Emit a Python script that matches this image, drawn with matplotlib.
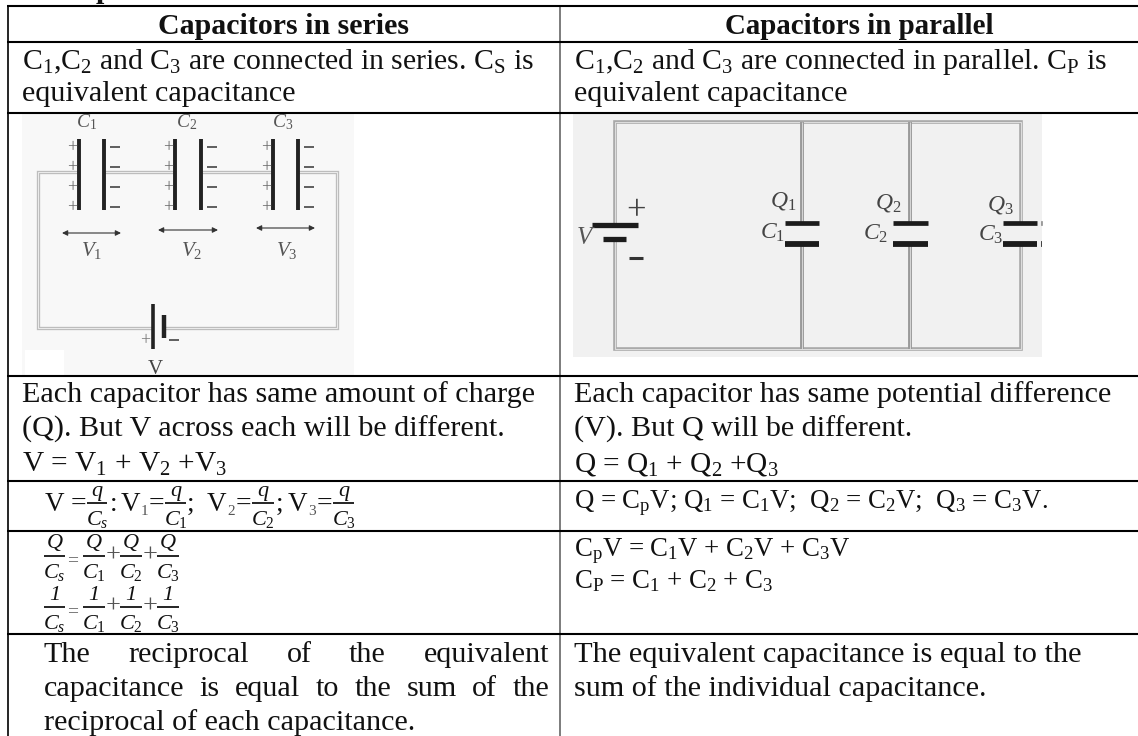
import matplotlib
matplotlib.use('Agg')
import matplotlib.pyplot as plt
from matplotlib.patches import Rectangle

plt.rcParams['font.family'] = ['Liberation Serif', 'DejaVu Serif']
plt.rcParams['mathtext.fontset'] = 'custom'
plt.rcParams['mathtext.rm'] = 'Liberation Serif'
plt.rcParams['mathtext.it'] = 'Liberation Serif:italic'
plt.rcParams['mathtext.bf'] = 'Liberation Serif:bold'

headers = ['Capacitors in series', 'Capacitors in parallel']

left_lines = [
    (69, 21.4, r'C$_{1}$,C$_{2}$ and C$_{3}$ are connected in series. C$_{\mathrm{S}}$ is'),
    (101, 21.7, 'equivalent capacitance'),
    (402, 21.7, 'Each capacitor has same amount of charge'),
    (437, 21.7, '(Q). But V across each will be different.'),
    (472, 21.2, r'V = V$_{1}$ + V$_{2}$ +V$_{3}$'),
]
right_lines = [
    (69, 21.4, r'C$_{1}$,C$_{2}$ and C$_{3}$ are connected in parallel. C$_{\mathrm{P}}$ is'),
    (101, 21.7, 'equivalent capacitance'),
    (402, 21.7, 'Each capacitor has same potential difference'),
    (437, 21.7, '(V). But Q will be different.'),
    (472, 21.1, r'Q = Q$_{1}$ + Q$_{2}$ +Q$_{3}$'),
    (508, 19.3, r'Q = C$_{\mathrm{p}}$V; Q$_{1}$ = C$_{1}$V;  Q$_{2}$ = C$_{2}$V;  Q$_{3}$ = C$_{3}$V.'),
    (556, 19.3, r'C$_{\mathrm{p}}$V = C$_{1}$V + C$_{2}$V + C$_{3}$V'),
    (588, 19.3, r'C$_{\mathrm{P}}$ = C$_{1}$ + C$_{2}$ + C$_{3}$'),
    (662, 21.9, 'The equivalent capacitance is equal to the'),
    (696, 21.7, 'sum of the individual capacitance.'),
]
justified_lines = [
    (662, 'The reciprocal of the equivalent'),
    (696, 'capacitance is equal to the sum of the'),
]
last_line = 'reciprocal of each capacitance.'

voltage_subs = ['1', '2', '3']
charge_fracs = ['Q', 'Q', 'Q', 'Q']
unit_fracs = ['1', '1', '1', '1']
den_labels = ['C_s', 'C_1', 'C_2', 'C_3']

fig = plt.figure(figsize=(11.38, 7.36), dpi=100)
ax = fig.add_axes([0, 0, 1, 1])
ax.set_xlim(0, 1138)
ax.set_ylim(736, 0)
ax.axis('off')

FS = 21.7
LX, MX = 8, 560


def put(x, y, s, size=FS, **kw):
    kw.setdefault('va', 'baseline')
    kw.setdefault('ha', 'left')
    kw.setdefault('color', '#111111')
    return ax.text(x, y, s, fontsize=size, **kw)


def seg(x0, y0, x1, y1, color='black', lw=1.5, **kw):
    ax.plot([x0, x1], [y0, y1], color=color, lw=lw, solid_capstyle='butt', **kw)


def frac(x0, x1, yl, num, den, ynum, yden, size=15):
    seg(x0, yl, x1, yl, lw=1.2)
    put((x0 + x1) / 2, ynum, num, size=size, ha='center', style='italic')
    put((x0 + x1) / 2, yden, '$%s$' % den, size=size, ha='center')


def justify(y, text, x0, x1):
    words = text.split()
    r = fig.canvas.get_renderer()
    items = [put(x0, y, w) for w in words]
    widths = [t.get_window_extent(r).width for t in items]
    gap = (x1 - x0 - sum(widths)) / (len(words) - 1)
    x = x0
    for t, w in zip(items, widths):
        t.set_x(x)
        x += w + gap


# clipped bit of the line above the table
put(96, -2, 'p', weight='bold')

# table rules
for y in [6, 42, 112.5, 376, 481, 530.5, 634]:
    seg(LX - 1, y, 1138, y, lw=1.5, zorder=5)
seg(LX, 6, LX, 736, lw=1.2)
seg(MX, 6, MX, 736, color='#666666', lw=1.2)

# headers
put(284, 34, headers[0], ha='center', weight='bold', size=21.5)
put(994, 34, headers[1], ha='right', weight='bold', size=20.9)

for y, size, s in left_lines:
    put(22, y, s, size=size)
for y, size, s in right_lines:
    put(574, y, s, size=size)
for y, s in justified_lines:
    justify(y, s, 44, 549)
put(44, 730, last_line)

# series circuit
ax.add_patch(Rectangle((22, 113), 332, 263, color='#f8f8f8', lw=0, zorder=0))
ax.add_patch(Rectangle((25, 350), 39, 26, color='white', lw=0, zorder=0))
ax.add_patch(Rectangle((38, 172), 299, 156, fill=False, ec='#bdbdbd', lw=2.4))
ax.add_patch(Rectangle((38, 172), 299, 156, fill=False, ec='#ececec', lw=0.7))
caps = [(79, 104, 233, 'C_{\\mathit{1}}', 'V_{\\mathit{1}}', 87, 92),
        (175, 201, 230, 'C_{\\mathit{2}}', 'V_{\\mathit{2}}', 187, 192),
        (273, 298, 228, 'C_{\\mathit{3}}', 'V_{\\mathit{3}}', 283, 287)]
for x0, x1, ya, c, v, xc, xv in caps:
    ax.add_patch(Rectangle((x0, 168), x1 - x0, 8, color='#f8f8f8', lw=0, zorder=2))
    seg(x0, 139, x0, 210, color='#222222', lw=2.8, zorder=3)
    seg(x1, 139, x1, 210, color='#222222', lw=2.8, zorder=3)
    for y in [147, 167, 187, 207]:
        put(x0 - 7, y + 5, '+', size=13, ha='center', color='#666666')
        seg(x1 + 6, y, x1 + 16, y, color='#444444', lw=1.2)
    ax.annotate('', xy=(x0 - 17, ya), xytext=(x1 + 17, ya),
                arrowprops=dict(arrowstyle='<|-|>', color='#333333', lw=0.8, mutation_scale=8, shrinkA=0, shrinkB=0))
    put(xv, 256, '$%s$' % v, size=15, ha='center', color='#555555')
    put(xc, 127, '$%s$' % c, size=14, ha='center', color='#555555')
ax.add_patch(Rectangle((153, 324), 11, 8, color='#f8f8f8', lw=0, zorder=2))
seg(153, 304, 153, 349, color='#222222', lw=2.6, zorder=3)
seg(164, 315, 164, 338, color='#222222', lw=3.2, zorder=3)
put(145, 345, '+', size=13, ha='center', color='#777777')
seg(169, 340, 179, 340, color='#444444', lw=1.2)
put(155, 374, 'V', size=15, ha='center', color='#444444')

# parallel circuit
ax.add_patch(Rectangle((573, 113), 469, 244, color='#f1f1f1', lw=0, zorder=0))
ax.add_patch(Rectangle((615, 122), 406, 227, fill=False, ec='#a8a8a8', lw=2.6))
ax.add_patch(Rectangle((615, 122), 406, 227, fill=False, ec='#dddddd', lw=0.8))
for x, w in [(802, 17), (910.5, 17.5), (1020, 17)]:
    if x != 1020:
        seg(x, 122, x, 349, color='#9a9a9a', lw=2.8)
        seg(x, 122, x, 349, color='#e0e0e0', lw=0.6)
    ax.add_patch(Rectangle((x - 4, 225), 8, 18, color='#f1f1f1', lw=0, zorder=2))
    seg(x - w, 223, x + w, 223, color='#1c1c1c', lw=3.4, zorder=3)
    seg(x - w, 244, x + w, 244, color='#1c1c1c', lw=4.2, zorder=3)
for y, lw in [(223, 3.4), (244, 4.2)]:
    seg(1041, y, 1042, y, color='#444444', lw=lw)
ax.add_patch(Rectangle((610, 227), 10, 10, color='#f1f1f1', lw=0, zorder=2))
seg(592, 225, 638, 225, color='#1c1c1c', lw=3.8, zorder=3)
seg(603, 239, 626, 239, color='#1c1c1c', lw=3.8, zorder=3)
put(636, 220, '+', size=25, ha='center', color='#444444')
seg(629, 258, 643, 258, color='#333333', lw=2.2)
put(586, 244, '$V$', size=18, ha='center', color='#555555')
for x, y, s in [(783, 207, 'Q_{\\mathit{1}}'), (773, 239, 'C_{\\mathit{1}}'), (888, 208, 'Q_{\\mathit{2}}'),
                (876, 240, 'C_{\\mathit{2}}'), (1000, 210, 'Q_{\\mathit{3}}'), (991, 241, 'C_{\\mathit{3}}')]:
    put(x, y, '$%s$' % s, size=17, ha='center', color='#444444')

# series formula row
VY = 511
VS = 19.5
put(45, VY, 'V', size=VS)
put(71, VY, '=', size=20)
frac(87, 107, 502.5, 'q', 'C_s', 496, 525, size=16)
put(110, VY, ':', size=VS)
put(187, VY, ';', size=VS)
put(276, VY, ';', size=VS)
for xv, xe, sub in zip([121, 207, 288], [149, 236, 317], voltage_subs):
    put(xv, VY, 'V', size=VS)
    put(xv + 20, VY + 4, sub, size=11, color='#555555')
    put(xe, VY, '=', size=20)
frac(165, 186, 502.5, 'q', 'C_1', 496, 525, size=16)
frac(252, 274, 502.5, 'q', 'C_2', 496, 525, size=16)
frac(333, 354, 502.5, 'q', 'C_3', 496, 525, size=16)

# reciprocal rows
frac_x = [(44, 65), (83, 105), (120, 142), (157, 179)]
for i, (x0, x1) in enumerate(frac_x):
    frac(x0, x1, 555.7, charge_fracs[i], den_labels[i], 548, 578, size=16)
    frac(x0, x1, 606.7, unit_fracs[i], den_labels[i], 600, 629, size=16)
for yl in [555.7, 606.7]:
    put(73, yl + 9, '=', size=14, ha='center', color='#555555')
    put(113, yl + 6, '+', size=19, ha='center', color='#555555')
    put(150, yl + 6, '+', size=19, ha='center', color='#555555')

fig.savefig('out.png', dpi=100)
